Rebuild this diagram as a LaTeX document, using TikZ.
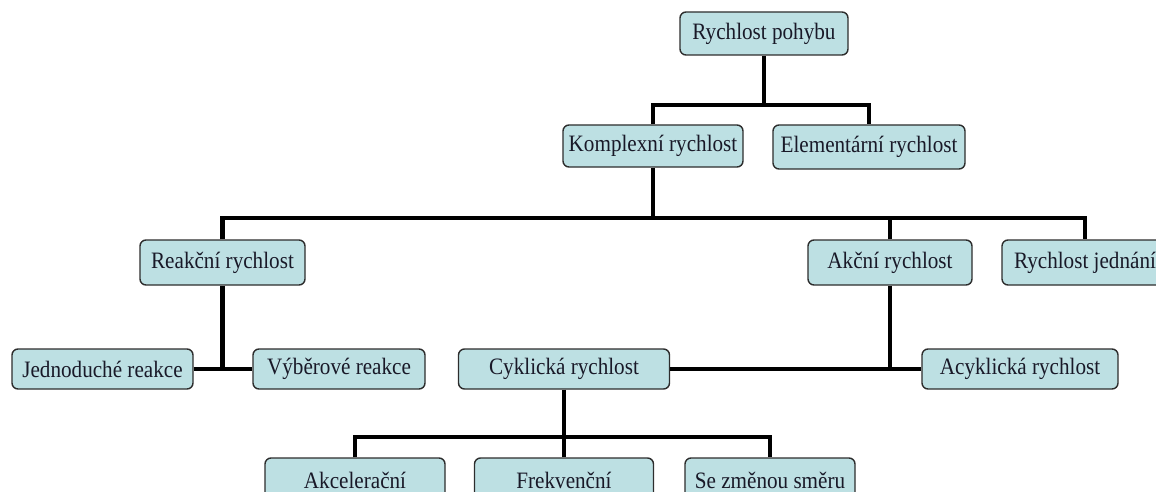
\documentclass[tikz,border=0pt]{standalone}
\usepackage{fontspec}
\setmainfont{Liberation Serif}[FakeStretch=0.9]
\definecolor{boxfill}{RGB}{189,224,227}
\definecolor{boxline}{RGB}{45,45,45}
\definecolor{txt}{RGB}{25,25,40}
\tikzset{
  bx/.style={draw=boxline, line width=1.4pt, fill=boxfill, rounded corners=6pt,
    inner sep=0pt, text=txt, font=\fontsize{23.5}{25}\selectfont},
  conn/.style={line width=4.2pt, line join=miter, black}
}
\newcommand{\bxn}[7]{% name, cx, cy, w, h, text, extra
  \node[bx, minimum width=#4pt, minimum height=#5pt, #7] (#1) at (#2,#3) {#6};}
\begin{document}
\begin{tikzpicture}[x=1pt,y=-1pt]
\useasboundingbox (0,0) rectangle (1156,492);
\begin{scope}
\clip (0,0) rectangle (1156,492);
% nodes
\bxn{top}{764}{33.5}{168}{43}{Rychlost pohybu}{}
\bxn{kompl}{653}{146}{180}{42}{Komplexní rychlost}{}
\bxn{elem}{869}{147}{192}{44}{Elementární rychlost}{}
\bxn{reak}{222.5}{262.5}{165}{45}{Reakční rychlost}{}
\bxn{akcni}{890}{262.5}{164}{45}{Akční rychlost}{}
\bxn{jedn}{1085}{262.5}{166}{45}{Rychlost jednání}{}
\bxn{jednod}{102.5}{369}{181}{40}{Jednoduché reakce}{}
\bxn{vyber}{339}{369}{172}{40}{Výběrové reakce}{}
\bxn{cykl}{564}{369}{211}{40}{Cyklická rychlost}{}
\bxn{acykl}{1020}{369}{196}{40}{Acyklická rychlost}{}
\bxn{akcel}{355}{480}{180}{44}{Akcelerační}{}
\bxn{frekv}{564}{480}{179}{44}{Frekvenční}{}
\bxn{smer}{770}{480}{170}{44}{Se změnou směru}{}
% junction coordinates
\coordinate (b1) at (764,105);
\coordinate (b2) at (653,218);
\coordinate (b3) at (222.5,369);
\coordinate (b4) at (890,368);
\coordinate (b5) at (564,437);
% connectors
\draw[conn] (top.south) -- (b1);
\draw[conn] (kompl.north) |- (b1) -| (elem.north);
\draw[conn] (kompl.south) -- (b2);
\draw[conn] (reak.north) |- (b2) -| (jedn.north);
\draw[conn] (akcni.north) |- (b2);
\draw[conn] (reak.south) -- (b3);
\draw[conn] (jednod.east) -- (vyber.west);
\draw[conn] (akcni.south) -- (b4);
\draw[conn] (cykl.east) -- (acykl.west);
\draw[conn] (cykl.south) -- (b5);
\draw[conn] (akcel.north) |- (b5) -| (smer.north);
\draw[conn] (frekv.north) -- (b5);
\end{scope}
\end{tikzpicture}
\end{document}
